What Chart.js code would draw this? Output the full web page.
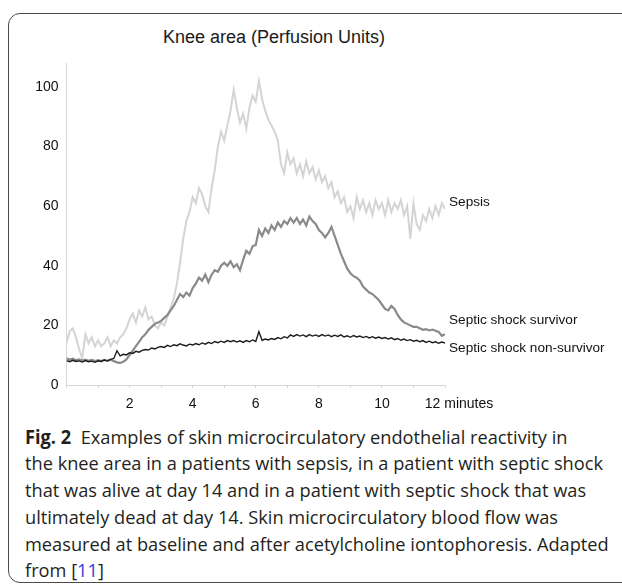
<!DOCTYPE html>
<html>
<head>
<meta charset="utf-8">
<style>
html, body { margin: 0; padding: 0; background: #fff; overflow: hidden; }
body { width: 622px; height: 586px; position: relative; }
#frame { position: absolute; left: 8px; top: 13px; width: 650px; height: 570px; border: 1px solid #4a4a4a; border-radius: 12px; box-sizing: border-box; }
#wrap { position: absolute; left: 0; top: 0; width: 622px; height: 420px; }
#title { position: absolute; left: 163px; top: 26px; font: 18px "Liberation Sans", Arial, sans-serif; color: #1a1a1a; white-space: nowrap; line-height: 22px; }
#caption { position: absolute; left: 25px; top: 423.5px; font-family: "Open Sans", "Noto Sans", sans-serif; font-size: 18.8px; line-height: 26.8px; color: #231f20; transform-origin: 0 0; }
#caption .ln { white-space: nowrap; }
#caption .ln span.w { display: inline-block; }
#caption b { font-weight: 700; }
#caption .ref { color: #3a3ad6; }
</style>
</head>
<body>
<div id="frame"></div>
<div id="title">Knee area (Perfusion Units)</div>
<div id="wrap"><canvas id="knee"></canvas></div>
<div id="caption">
  <div class="ln"><span class="w"><b>Fig. 2</b>&nbsp; Examples of skin microcirculatory endothelial reactivity in</span></div>
  <div class="ln"><span class="w" id="widest">the knee area in a patients with sepsis, in a patient with septic shock</span></div>
  <div class="ln"><span class="w">that was alive at day 14 and in a patient with septic shock that was</span></div>
  <div class="ln"><span class="w">ultimately dead at day 14. Skin microcirculatory blood flow was</span></div>
  <div class="ln"><span class="w">measured at baseline and after acetylcholine iontophoresis. Adapted</span></div>
  <div class="ln"><span class="w">from [<span class="ref">11</span>]</span></div>
</div>
<script src="https://cdn.jsdelivr.net/npm/chart.js@4.4.1/dist/chart.umd.min.js"></script>
<script>
// sampling times (minutes)
var minutes = [
  0.0,0.1,0.2,0.3,0.4,0.5,0.6,0.7,0.8,0.9,
  1.0,1.1,1.2,1.3,1.4,1.5,1.6,1.7,1.8,1.9,
  2.0,2.1,2.2,2.3,2.4,2.5,2.6,2.7,2.8,2.9,
  3.0,3.1,3.2,3.3,3.4,3.5,3.6,3.7,3.8,3.9,
  4.0,4.1,4.2,4.3,4.4,4.5,4.6,4.7,4.8,4.9,
  5.0,5.1,5.2,5.3,5.4,5.5,5.6,5.7,5.8,5.9,
  6.0,6.1,6.2,6.3,6.4,6.5,6.6,6.7,6.8,6.9,
  7.0,7.1,7.2,7.3,7.4,7.5,7.6,7.7,7.8,7.9,
  8.0,8.1,8.2,8.3,8.4,8.5,8.6,8.7,8.8,8.9,
  9.0,9.1,9.2,9.3,9.4,9.5,9.6,9.7,9.8,9.9,
  10.0,10.1,10.2,10.3,10.4,10.5,10.6,10.7,10.8,10.9,
  11.0,11.1,11.2,11.3,11.4,11.5,11.6,11.7,11.8,11.9,
  12.0
];

var sepsis = [
  14,18,19,16,12,9,17,14,16,13,
  15,13,14,16,13,15,14,16,17,19,
  22,24,21,25,23,26,22,23,20,19,
  21,20,23,26,29,34,41,49,55,58,
  63,61,66,64,60,58,66,72,80,85,
  82,87,92,99,93,88,91,86,93,97,
  95,102,96,92,89,87,85,82,74,71,
  78,74,76,71,74,70,75,71,73,69,
  72,68,70,66,68,63,65,61,63,58,
  60,56,63,59,62,58,61,57,62,59,
  61,57,62,58,61,59,62,57,60,49,
  61,54,52,57,55,59,56,60,57,61,
  59
];

var survivor = [
  9,8.5,8.8,8.3,8.6,8.2,8.5,8.1,8.4,8.0,
  8.3,8.0,8.4,8.1,8.5,8.0,7.6,7.4,7.8,8.6,
  10,11.5,13,14.5,16,17,18.5,19.5,20.5,21,
  21.5,22.5,23.5,25,26.5,28.5,30.5,29.5,31,30,
  32.5,34,36,35,37,34.5,37,38.5,38,40,
  41,40,41.5,39.5,40.5,38.5,42,45,44,46.5,
  47,52,50,52.5,51,53.5,52,54.5,53,55,
  54,56,54.5,56,54,55.5,53.5,56.5,55,54,
  52,51,49.5,51,53,50,47,44,41.5,39,
  37.5,36.5,36,35,33,32,31,30.5,29.5,28.5,
  27,25.5,25,26.5,25.5,23.5,22,21,20.5,20,
  19.5,19.5,19,18.5,18.7,18.3,18.6,18.2,17.8,16.5,
  17
];

var nonSurvivor = [
  8.2,7.8,8.3,7.9,8.1,7.7,8.2,7.8,8.0,7.6,
  8.1,7.9,8.4,8.1,8.6,8.9,11.5,9.8,10.3,10.1,
  10.8,10.6,11.3,11.0,11.6,11.9,11.7,12.4,12.1,12.6,
  12.9,12.6,13.3,12.9,13.5,13.2,13.8,13.4,13.1,13.7,
  13.4,13.9,13.5,14.1,13.7,14.3,13.9,14.6,14.2,14.7,
  14.3,14.9,14.5,14.9,14.4,14.8,14.3,14.9,14.5,15.1,
  14.6,17.9,15.0,15.4,15.1,15.6,15.3,15.9,15.5,16.2,
  15.8,16.8,16.3,16.9,16.4,16.8,16.2,16.9,16.4,16.8,
  16.3,16.9,16.4,16.8,16.2,16.7,16.3,16.8,16.1,16.5,
  16.0,16.6,16.1,16.4,15.9,16.3,15.8,16.2,15.7,16.1,
  15.6,15.9,15.4,15.8,15.2,15.6,15.0,15.4,14.9,15.2,
  14.7,15.0,14.5,14.9,14.3,14.7,14.2,14.5,14.0,14.4,
  14.1
];

var seriesNames = ['Sepsis', 'Septic shock survivor', 'Septic shock non-survivor'];
// value at which each end label sits
var labelValues = [61.2, 21.6, 12.3];
var yTicks = [0, 20, 40, 60, 80, 100];
var xLabelled = [2, 4, 6, 8, 10, 12];

function pts(ys) {
  var out = [];
  for (var i = 0; i < ys.length; i++) out.push({x: minutes[i], y: ys[i]});
  return out;
}

var endLabels = {
  id: 'endLabels',
  afterDraw: function(chart) {
    var ctx = chart.ctx, ys = chart.scales.y, a = chart.chartArea;
    ctx.save();
    ctx.font = '13.6px "Liberation Sans", Arial, sans-serif';
    ctx.fillStyle = '#111';
    ctx.textBaseline = 'middle';
    ctx.textAlign = 'left';
    for (var i = 0; i < seriesNames.length; i++) {
      ctx.fillText(seriesNames[i], a.right + 4, ys.getPixelForValue(labelValues[i]));
    }
    ctx.restore();
  }
};

Chart.defaults.font.family = '"Liberation Sans", Arial, sans-serif';
Chart.defaults.font.size = 14;
Chart.defaults.color = '#111';

var ctx = document.getElementById('knee').getContext('2d');
window.kneeChart = new Chart(ctx, {
  type: 'line',
  data: {
    datasets: [
      {label: seriesNames[0], data: pts(sepsis), borderColor: '#d4d4d4', borderWidth: 2, order: 3},
      {label: seriesNames[1], data: pts(survivor), borderColor: '#8a8a8a', borderWidth: 2.2, order: 2},
      {label: seriesNames[2], data: pts(nonSurvivor), borderColor: '#1c1c1c', borderWidth: 1.4, order: 1}
    ]
  },
  options: {
    responsive: true,
    maintainAspectRatio: false,
    animation: false,
    parsing: false,
    elements: { point: { radius: 0 }, line: { tension: 0 } },
    layout: { padding: { left: 0, right: 177, top: 63, bottom: 5 } },
    plugins: { legend: { display: false }, tooltip: { enabled: false }, title: { display: false } },
    scales: {
      x: {
        type: 'linear', min: 0, max: 12,
        border: { display: true, color: '#d6d6d6', width: 1 },
        grid: { display: true, drawOnChartArea: false, drawTicks: true, tickLength: 3, color: '#d6d6d6' },
        ticks: {
          stepSize: 1, autoSkip: false, maxRotation: 0, padding: 8,
          callback: function(v) {
            if (xLabelled.indexOf(v) < 0) return '';
            return v === 12 ? '\u2003\u200312 minutes' : String(v);
          }
        },
        afterFit: function(s) { s.height = 30; }
      },
      y: {
        min: 0, max: 108,
        border: { display: true, color: '#d6d6d6', width: 1 },
        grid: { display: false, drawTicks: false },
        ticks: {
          stepSize: 20, includeBounds: false, padding: 8,
          callback: function(v) { return yTicks.indexOf(v) >= 0 ? String(v) : ''; }
        },
        afterFit: function(s) { s.width = 66.5; }
      }
    }
  },
  plugins: [endLabels]
});

// fit caption lines to the printed width
var w = document.getElementById('widest').getBoundingClientRect().width;
document.getElementById('caption').style.transform = 'scaleX(' + (578 / w) + ')';
</script>
</body>
</html>
